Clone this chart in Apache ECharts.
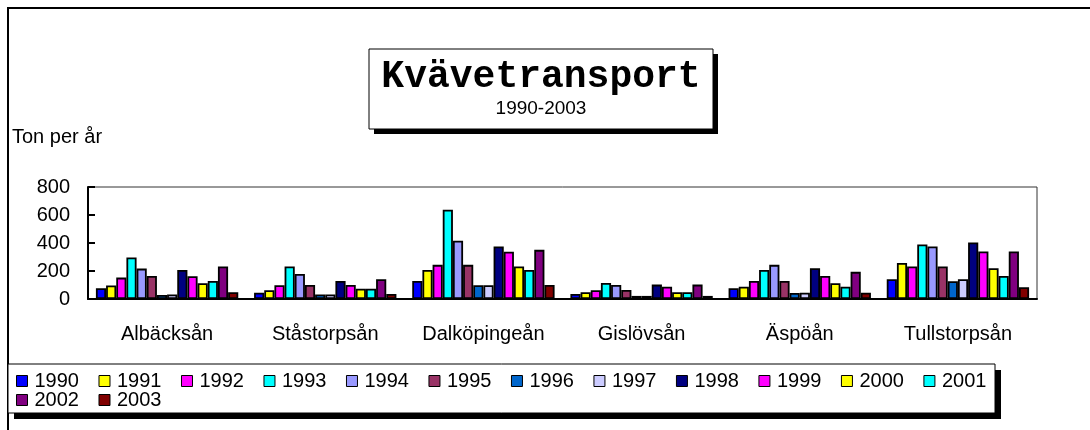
<!DOCTYPE html>
<html lang="sv">
<head>
<meta charset="utf-8">
<title>Kvävetransport</title>
<script src="https://cdn.jsdelivr.net/npm/echarts@6/dist/echarts.min.js"></script>
<style>
html,body{margin:0;padding:0;background:#fff;}
#main{width:1090px;height:430px;}
</style>
</head>
<body>
<div id="main"></div>
<script>
// rivers on the x axis, one bar per year
var rivers = ['Albäcksån', 'Ståstorpsån', 'Dalköpingeån', 'Gislövsån', 'Äspöån', 'Tullstorpsån'];
var years = ['1990','1991','1992','1993','1994','1995','1996','1997','1998','1999','2000','2001','2002','2003'];
var yTicks = [0, 200, 400, 600, 800];

// ton per år, 1990..2003
var albacksan    = [77, 96, 153, 296, 217, 165, 29, 33, 208, 162, 112, 129, 232, 48];
var stastorpsan  = [45, 62, 98, 232, 179, 100, 33, 33, 129, 100, 74, 74, 141, 36];
var dalkopingean = [129, 208, 244, 638, 416, 244, 98, 98, 375, 337, 232, 208, 351, 100];
var gislovsan    = [36, 48, 62, 115, 100, 65, 22, 22, 103, 88, 48, 48, 103, 22];
var aspoan       = [77, 88, 129, 208, 244, 129, 43, 45, 220, 165, 112, 88, 194, 45];
var tullstorpsan = [141, 258, 232, 390, 375, 232, 127, 141, 404, 339, 220, 165, 339, 84];
var values = [albacksan, stastorpsan, dalkopingean, gislovsan, aspoan, tullstorpsan];

var colors = ['#0000ff','#ffff00','#ff00ff','#00ffff','#9999ff','#993366','#0066cc',
              '#ccccff','#000080','#ff00ff','#ffff00','#00ffff','#800080','#800000'];

var font = 'Liberation Sans, Arial, sans-serif';

var series = years.map(function (y, i) {
  return {
    name: y,
    type: 'bar',
    barGap: '0%',
    barCategoryGap: '10%',
    data: values.map(function (r) { return r[i]; }),
    itemStyle: { color: colors[i], borderColor: '#000', borderWidth: 1.8 }
  };
});

var legendBase = {
  orient: 'horizontal',
  left: 16,
  padding: 0,
  icon: 'rect',
  itemWidth: 11,
  itemHeight: 11,
  itemGap: 19.5,
  selectedMode: false,
  itemStyle: { borderColor: '#000', borderWidth: 1 },
  textStyle: { fontSize: 20, fontFamily: font, color: '#000', padding: [0, 0, 0, 2] }
};

var myChart = echarts.init(document.getElementById('main'));
myChart.setOption({
  animation: false,
  backgroundColor: '#fff',
  grid: { left: 88, right: 53, top: 187, bottom: 131, show: true, borderColor: '#333', borderWidth: 1 },
  xAxis: {
    type: 'category',
    data: rivers,
    axisLine: { lineStyle: { color: '#000', width: 2 } },
    axisTick: { inside: true, length: 5, lineStyle: { color: '#000', width: 2 } },
    axisLabel: { interval: 0, margin: 25, fontSize: 20, fontFamily: font, color: '#000' }
  },
  yAxis: {
    type: 'value',
    min: yTicks[0],
    max: yTicks[yTicks.length - 1],
    interval: 200,
    splitLine: { show: false },
    axisLine: { show: true, lineStyle: { color: '#000', width: 2 } },
    axisTick: { show: true, inside: true, length: 7, lineStyle: { color: '#000', width: 2 } },
    axisLabel: { margin: 18, fontSize: 20, fontFamily: font, color: '#000' }
  },
  legend: [
    Object.assign({}, legendBase, { top: 371, data: years.slice(0, 12) }),
    Object.assign({}, legendBase, { top: 390, data: years.slice(12) })
  ],
  graphic: [
    // outer frame
    { type: 'rect', shape: { x: 8, y: 8, width: 1200, height: 600 }, style: { fill: 'none', stroke: '#000', lineWidth: 2 }, silent: true },
    // title box
    { type: 'rect', shape: { x: 374, y: 54, width: 344, height: 80 }, style: { fill: '#000' }, silent: true },
    { type: 'rect', shape: { x: 369, y: 49, width: 344, height: 80 }, style: { fill: '#fff', stroke: '#000', lineWidth: 1 }, silent: true },
    { type: 'text', x: 541, y: 77, style: { text: 'Kvävetransport', fontFamily: 'Liberation Mono, Courier New, monospace', fontWeight: 'bold', fontSize: 38, fill: '#000', align: 'center', verticalAlign: 'middle' }, silent: true },
    { type: 'text', x: 541, y: 109, style: { text: '1990-2003', fontFamily: font, fontSize: 19, fill: '#000', align: 'center', verticalAlign: 'middle' }, silent: true },
    // y axis name
    { type: 'text', x: 12, y: 137, style: { text: 'Ton per år', fontFamily: font, fontSize: 20, fill: '#000', align: 'left', verticalAlign: 'middle' }, silent: true },
    // legend box
    { type: 'rect', shape: { x: 14, y: 370, width: 987, height: 49 }, style: { fill: '#000' }, silent: true },
    { type: 'rect', shape: { x: 8, y: 364, width: 987, height: 49 }, style: { fill: '#fff', stroke: '#000', lineWidth: 1 }, silent: true }
  ],
  series: series
});
</script>
</body>
</html>
